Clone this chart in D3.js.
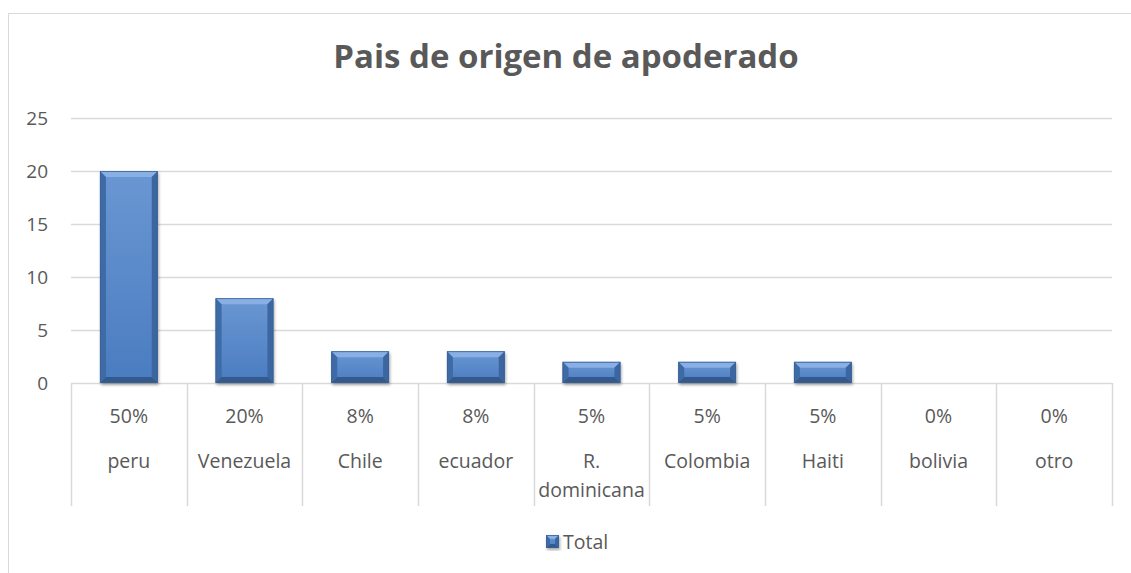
<!DOCTYPE html>
<html><head><meta charset="utf-8">
<script src="https://cdn.jsdelivr.net/npm/d3@7"></script>
<style>body{margin:0;background:#fff}svg{display:block}</style>
</head><body>
<script>
const categories = ["peru","Venezuela","Chile","ecuador","R. dominicana","Colombia","Haiti","bolivia","otro"];
const percentLabels = ["50%","20%","8%","8%","5%","5%","5%","0%","0%"];
const values = [20,8,3,3,2,2,2,0,0];
const yTicks = [0,5,10,15,20,25];
const seriesName = "Total";
const title = "Pais de origen de apoderado";

const W=1131,H=573;
const font="'Open Sans', 'Noto Sans', sans-serif";
const txt="#595959", grid="#d9d9d9";
const svg=d3.select("body").append("svg").attr("width",W).attr("height",H);

const defs=svg.append("defs");
const g1=defs.append("linearGradient").attr("id","face").attr("x1",0).attr("x2",0).attr("y1",0).attr("y2",1);
g1.append("stop").attr("offset","0%").attr("stop-color","#6a97d3");
g1.append("stop").attr("offset","100%").attr("stop-color","#4a7cc0");
const f=defs.append("filter").attr("id","sh").attr("x","-20%").attr("y","-20%").attr("width","140%").attr("height","140%");
f.append("feDropShadow").attr("dx",1).attr("dy",2).attr("stdDeviation",1.5).attr("flood-color","#000").attr("flood-opacity",0.35);

// outer border
svg.append("rect").attr("x",8.5).attr("y",13.5).attr("width",W+20).attr("height",H+20).attr("fill","none").attr("stroke",grid);

const x=d3.scaleBand().domain(categories).range([71,1112]).paddingInner(0).paddingOuter(0);
const y=d3.scaleLinear().domain([0,25]).range([383,118]);

// gridlines
svg.append("g").selectAll("line").data(yTicks.filter(d=>d>0)).join("line")
 .attr("x1",71).attr("x2",1112).attr("y1",d=>Math.round(y(d))+0.5).attr("y2",d=>Math.round(y(d))+0.5)
 .attr("stroke",grid).attr("stroke-width",1.3);

// y axis labels
const yAxis=d3.axisLeft(y).tickValues(yTicks).tickSize(0).tickPadding(0);
const ya=svg.append("g").attr("transform","translate(48,0)").call(yAxis);
ya.select(".domain").remove();
ya.selectAll("text").attr("font-family",font).attr("font-size",19).attr("fill",txt).attr("dy","0.35em");

// category table lines
const tableBottom=506;
svg.append("line").attr("x1",71).attr("x2",1112).attr("y1",383.5).attr("y2",383.5).attr("stroke",grid).attr("stroke-width",1.5);
const bounds=categories.map(c=>x(c)).concat([x.range()[1]]);
svg.append("g").selectAll("line").data(bounds).join("line")
 .attr("x1",d=>Math.round(d)+0.5).attr("x2",d=>Math.round(d)+0.5).attr("y1",383).attr("y2",tableBottom)
 .attr("stroke",grid).attr("stroke-width",1.5);

// labels
const lab=svg.append("g").attr("font-family",font).attr("font-size",19.5).attr("fill",txt).attr("text-anchor","middle");
lab.selectAll("text.p").data(categories).join("text").attr("class","p")
 .attr("x",d=>x(d)+x.bandwidth()/2).attr("y",423).text((d,i)=>percentLabels[i]);
const nameT=lab.selectAll("text.n").data(categories).join("text").attr("class","n")
 .attr("x",d=>x(d)+x.bandwidth()/2).attr("y",468);
nameT.each(function(d){
  const parts=d.split(" ");
  const t=d3.select(this);
  if(parts.length>1){
    t.append("tspan").attr("x",x(d)+x.bandwidth()/2).text(parts[0]);
    t.append("tspan").attr("x",x(d)+x.bandwidth()/2).attr("dy",29).text(parts.slice(1).join(" "));
  } else t.text(d);
});

// bars with bevel
function bevelBar(gp,bx,by,bw,bh,bev){
  const b=Math.min(bev,bh/2,bw/2);
  const gg=gp.append("g");
  gg.append("rect").attr("x",bx).attr("y",by).attr("width",bw).attr("height",bh).attr("fill","url(#face)").attr("filter","url(#sh)");
  gg.append("polygon").attr("points",[[bx,by],[bx+bw,by],[bx+bw-b,by+b],[bx+b,by+b]].join(" ")).attr("fill","#8db3e6").attr("opacity",0.9);
  gg.append("polygon").attr("points",[[bx,by],[bx+b,by+b],[bx+b,by+bh-b],[bx,by+bh]].join(" ")).attr("fill","#3e6aa6");
  gg.append("polygon").attr("points",[[bx+bw,by],[bx+bw,by+bh],[bx+bw-b,by+bh-b],[bx+bw-b,by+b]].join(" ")).attr("fill","#3c66a0");
  gg.append("polygon").attr("points",[[bx,by+bh],[bx+b,by+bh-b],[bx+bw-b,by+bh-b],[bx+bw,by+bh]].join(" ")).attr("fill","#34598d");
  gg.append("rect").attr("x",bx+0.5).attr("y",by+0.5).attr("width",bw-1).attr("height",bh-1).attr("fill","none").attr("stroke","#3a6296").attr("stroke-width",0.8);
}
const bars=svg.append("g");
const bw=x.bandwidth()*0.5;
categories.forEach((c,i)=>{
  if(values[i]<=0) return;
  const bx=x(c)+x.bandwidth()/2-bw/2;
  const by=y(values[i]);
  bevelBar(bars,bx,by,bw,y(0)-by,6);
});

// title
svg.append("text").attr("x",566).attr("y",68).attr("text-anchor","middle").attr("font-family",font)
 .attr("font-size",33).attr("font-weight","bold").attr("fill",txt).text(title);

// legend
const lg=svg.append("g");
bevelBar(lg,546,535,13,13,4);
lg.append("text").attr("x",563).attr("y",548.5).attr("font-family",font).attr("font-size",19.5).attr("fill",txt).text(seriesName);
</script>
</body></html>
